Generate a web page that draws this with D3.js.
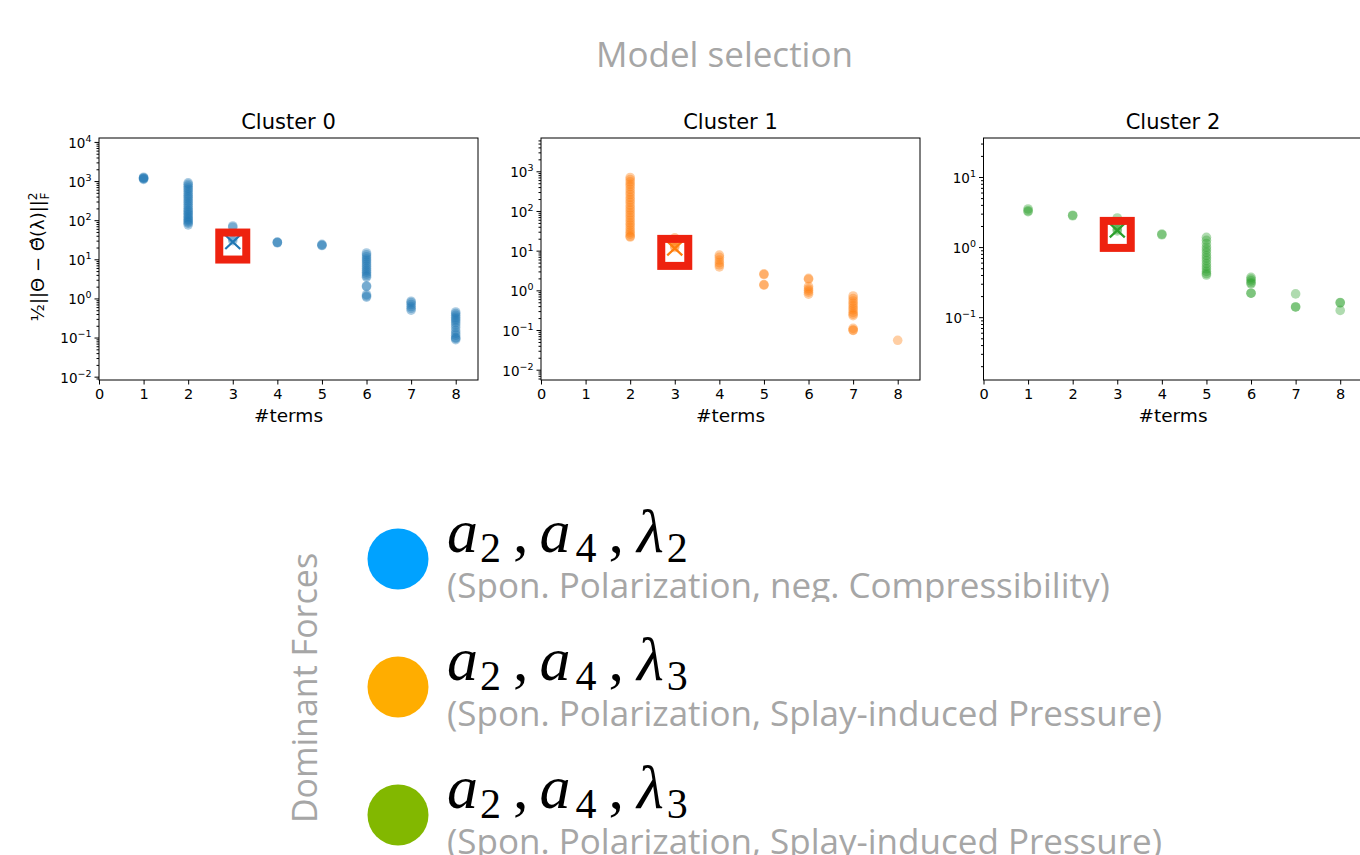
<!DOCTYPE html>
<html>
<head>
<meta charset="utf-8">
<script src="https://cdn.jsdelivr.net/npm/d3@7"></script>
<style>
  body { margin: 0; background: #fff; }
  svg { display: block; }
</style>
</head>
<body>
<svg width="1360" height="855"></svg>
<script>
// values, one array per cluster: [#terms, [errors]]
const cluster0 = [
  [1, [1100, 1150, 1250, 1200, 1180]],
  [2, [900, 820, 740, 660, 600, 540, 480, 430, 390, 350, 310, 280, 250, 225, 200, 180, 165, 150, 138, 125, 115, 105, 97, 90, 84, 76]],
  [3, [71, 66, 34, 30]],
  [4, [27, 27.5, 26.5]],
  [5, [23, 22.5, 24]],
  [6, [14.5, 13, 11.5, 10.2, 9.2, 8.2, 7.3, 6.5, 5.8, 5.2, 4.7, 4.2, 3.8, 3.5, 2.1, 2.0, 1.25, 1.15, 1.08]],
  [7, [0.85, 0.78, 0.7, 0.62, 0.56, 0.5]],
  [8, [0.45, 0.41, 0.37, 0.33, 0.3, 0.27, 0.24, 0.21, 0.18, 0.15, 0.13, 0.115, 0.1, 0.095, 0.088]]
]
const cluster1 = [
  [2, [700, 620, 540, 470, 410, 350, 300, 260, 220, 190, 165, 140, 120, 105, 90, 78, 67, 58, 50, 44, 38, 33, 29, 26, 23, 22]],
  [3, [21, 18, 15, 13, 12]],
  [4, [7.7, 6.8, 5.8, 5, 4.4, 3.9]],
  [5, [2.6, 2.5, 1.4, 1.35]],
  [6, [2.0, 1.9, 1.25, 1.1, 1.0, 0.9, 0.8]],
  [7, [0.72, 0.62, 0.54, 0.47, 0.41, 0.36, 0.32, 0.28, 0.25, 0.23, 0.11, 0.1, 0.098]],
  [8, [0.055]]
]
const cluster2 = [
  [1, [3.5, 3.3, 3.2]],
  [2, [2.85, 2.8]],
  [3, [2.6, 2.3, 2.0, 1.8, 1.7]],
  [4, [1.53, 1.5]],
  [5, [1.38, 1.25, 1.12, 1.0, 0.92, 0.84, 0.76, 0.7, 0.64, 0.58, 0.53, 0.49, 0.45, 0.42, 0.4]],
  [6, [0.37, 0.35, 0.33, 0.31, 0.3, 0.22, 0.22]],
  [7, [0.215, 0.14, 0.14]],
  [8, [0.162, 0.16, 0.125]]
]
const clusters = [cluster0, cluster1, cluster2]
const clusterNames = ['Cluster 0', 'Cluster 1', 'Cluster 2']
const clusterColors = ['#1f77b4', '#ff7f0e', '#2ca02c']
const selected = [[3, 27.6], [3, 11.4], [3, 1.73]]
const xTicks = [0, 1, 2, 3, 4, 5, 6, 7, 8]
const xDomain = [0, 8.5]
const yDomains = [[0.00822, 12600], [0.0055, 6900], [0.0127, 36]]

const legendColors = ['#00a2ff', '#ffad00', '#82b800']
const legendTerms = [
  [['a', '2'], ['a', '4'], ['λ', '2']],
  [['a', '2'], ['a', '4'], ['λ', '3']],
  [['a', '2'], ['a', '4'], ['λ', '3']]
]
const legendNotes = [
  '(Spon. Polarization, neg. Compressibility)',
  '(Spon. Polarization, Splay-induced Pressure)',
  '(Spon. Polarization, Splay-induced Pressure)'
]

const svg = d3.select('svg')
const width = +svg.attr('width')
const height = +svg.attr('height')

const panelLeft = [99, 541, 983.5]
const panelTop = 138
const panelW = 379
const panelH = 242
const gray = '#a6a6a6'
const mplFont = 'DejaVu Sans, sans-serif'
const slideFont = '"Open Sans", sans-serif'

svg.append('rect').attr('width', width).attr('height', height).attr('fill', '#fff')

svg.append('text')
  .attr('x', 724.5).attr('y', 67)
  .attr('text-anchor', 'middle')
  .attr('font-family', slideFont).attr('font-size', 35)
  .attr('fill', gray)
  .text('Model selection')

const minus = s => s.replace('-', '−')

const renderPanel = (data, i) => {
  const color = clusterColors[i]
  const g = svg.append('g')
    .attr('transform', `translate(${panelLeft[i]},${panelTop})`)

  const xScale = d3.scaleLinear().domain(xDomain).range([0, panelW])
  const yScale = d3.scaleLog().domain(yDomains[i]).range([panelH, 0])

  const [lo, hi] = yDomains[i]
  const kLo = Math.floor(Math.log10(lo))
  const kHi = Math.ceil(Math.log10(hi))
  const majors = d3.range(kLo, kHi + 1).map(k => Math.pow(10, k)).filter(v => v >= lo && v <= hi)
  const minors = []
  d3.range(kLo, kHi + 1).forEach(k => {
    d3.range(2, 10).forEach(m => {
      const v = m * Math.pow(10, k)
      if (v >= lo && v <= hi) minors.push(v)
    })
  })

  // minor ticks
  const minorAxis = g.append('g')
    .call(d3.axisLeft(yScale).tickValues(minors).tickSize(2.5).tickFormat(''))
  minorAxis.select('.domain').remove()

  // major ticks with 10^k labels
  const yAxisG = g.append('g')
    .call(d3.axisLeft(yScale).tickValues(majors).tickSize(4.5).tickPadding(3))
  yAxisG.select('.domain').remove()
  yAxisG.selectAll('.tick text')
    .attr('font-family', mplFont).attr('font-size', 13.5).attr('fill', '#000')
    .each(function (d) {
      const t = d3.select(this)
      const k = Math.round(Math.log10(d))
      t.text('')
      t.append('tspan').text('10')
      t.append('tspan').attr('dy', -6).attr('font-size', 9.5).text(minus(String(k)))
    })
    .attr('dy', '0.4em')

  const xAxisG = g.append('g')
    .attr('transform', `translate(0,${panelH})`)
    .call(d3.axisBottom(xScale).tickValues(xTicks).tickSize(4.5).tickPadding(4).tickFormat(d3.format('d')))
  xAxisG.select('.domain').remove()
  xAxisG.selectAll('.tick text')
    .attr('font-family', mplFont).attr('font-size', 14.5).attr('fill', '#000')

  g.selectAll('.tick line').attr('stroke', '#000').attr('stroke-width', 1)

  const sel = selected[i]
  g.append('path')
    .attr('transform', `translate(${xScale(sel[0])},${yScale(sel[1])})`)
    .attr('d', 'M-7.5,-7L7.5,7M-7.5,7L7.5,-7')
    .attr('stroke', color).attr('stroke-width', 2.2).attr('fill', 'none')

  const points = data.flatMap(([n, vals]) => vals.map(v => [n, v]))
  g.append('g').selectAll('circle').data(points)
    .enter().append('circle')
    .attr('cx', d => xScale(d[0]))
    .attr('cy', d => yScale(d[1]))
    .attr('r', 4.8)
    .attr('fill', color)
    .attr('fill-opacity', 0.38)

  // red highlight box around the chosen model
  g.append('rect')
    .attr('x', xScale(sel[0]) - 13.5)
    .attr('y', yScale(sel[1]) + 4 - 13.5)
    .attr('width', 27).attr('height', 27)
    .attr('fill', 'none')
    .attr('stroke', '#ee220f').attr('stroke-width', 8)

  g.append('rect')
    .attr('width', panelW).attr('height', panelH)
    .attr('fill', 'none').attr('stroke', '#000').attr('stroke-width', 1)

  g.append('text')
    .attr('x', panelW / 2).attr('y', -8.7)
    .attr('text-anchor', 'middle')
    .attr('font-family', mplFont).attr('font-size', 21)
    .text(clusterNames[i])

  g.append('text')
    .attr('x', panelW / 2).attr('y', 284)
    .attr('text-anchor', 'middle')
    .attr('font-family', mplFont).attr('font-size', 18.5)
    .text('#terms')

  if (i === 0) {
    const lab = g.append('text')
      .attr('transform', `translate(-55,${panelH / 2 - 2}) rotate(-90)`)
      .attr('text-anchor', 'middle')
      .attr('font-family', mplFont).attr('font-size', 18)
    lab.append('tspan').text('½||Θ − Θ̂(λ)||')
    lab.append('tspan').attr('font-size', 12).attr('dy', -7).text('2')
    lab.append('tspan').attr('font-size', 12).attr('dx', -7).attr('dy', 12).text('F')
  }
}

clusters.forEach(renderPanel)

// legend of dominant forces
const rowY = d3.scalePoint().domain(d3.range(legendColors.length)).range([559, 815])

svg.append('text')
  .attr('transform', `translate(317,688) rotate(-90)`)
  .attr('text-anchor', 'middle')
  .attr('font-family', slideFont).attr('font-size', 34)
  .attr('fill', gray)
  .text('Dominant Forces')

const defs = svg.append('defs')

// horizontal gaps inside "a_2, a_4, λ_k"
const subGap = [2, 5, 3]
const commaGap = 12
const symGap = [0, 11, 13]

legendColors.forEach((c, i) => {
  const cy = rowY(i)
  svg.append('circle')
    .attr('cx', 398).attr('cy', cy).attr('r', 30.5)
    .attr('fill', c)

  const base = cy - 7
  const m = svg.append('text')
    .attr('x', 447).attr('y', base)
    .attr('font-family', '"Liberation Serif", serif')
    .attr('font-size', 62)
    .attr('fill', '#000')
  const n = legendTerms[i].length
  legendTerms[i].forEach(([sym, sub], j) => {
    m.append('tspan').attr('font-style', 'italic')
      .attr('dx', symGap[j])
      .text(sym)
    m.append('tspan').attr('font-size', 42).attr('dx', subGap[j]).attr('dy', 10).text(sub)
    m.append('tspan').attr('dx', commaGap).attr('dy', -10).text(j < n - 1 ? ',' : '')
  })

  const note = svg.append('text')
    .attr('x', 447).attr('y', base + 46)
    .attr('font-family', slideFont).attr('font-size', 35)
    .attr('fill', gray)
    .text(legendNotes[i])

  // the first note is partly hidden under the row below it
  if (i === 0) {
    defs.append('clipPath').attr('id', 'note-clip')
      .append('rect')
      .attr('x', 0).attr('y', 0)
      .attr('width', width).attr('height', cy + 43)
    note.attr('clip-path', 'url(#note-clip)')
  }
})
</script>
</body>
</html>
